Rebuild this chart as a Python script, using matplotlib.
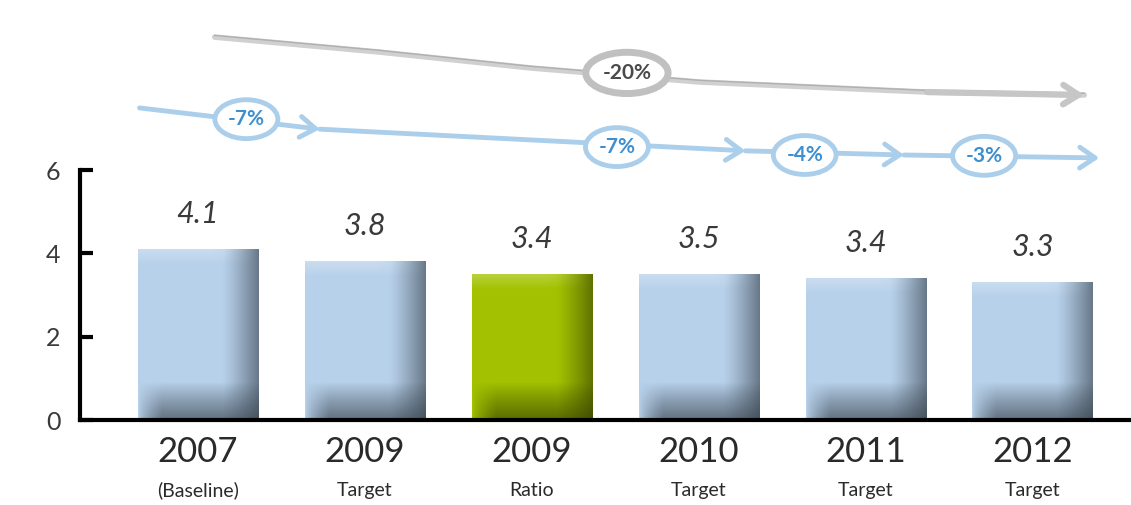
import numpy as np
import matplotlib
matplotlib.use('Agg')
import matplotlib.pyplot as plt

plt.rcParams['font.family'] = ['Lato', 'DejaVu Sans']

# bar data
years = ['2007', '2009', '2009', '2010', '2011', '2012']
sublabels = ['(Baseline)', 'Target', 'Ratio', 'Target', 'Target', 'Target']
heights = [4.1, 3.8, 3.5, 3.5, 3.4, 3.3]
value_labels = ['4.1', '3.8', '3.4', '3.5', '3.4', '3.3']
highlight = [False, False, True, False, False, False]

# reduction arrows (x in bar positions, y in data units above the bars)
gray_path_x = [0.10, 1.09, 1.99, 3.01, 4.37, 5.31]
gray_path_y = [9.19, 8.83, 8.45, 8.11, 7.87, 7.80]
gray_label = '-20%'
gray_label_xy = (2.57, 8.33)

blue_path_x = [-0.35, 0.73, 3.28, 4.23, 5.40]
blue_path_y = [7.49, 6.98, 6.46, 6.36, 6.29]
blue_labels = ['-7%', '-7%', '-4%', '-3%']
blue_label_x = [0.29, 2.51, 3.635, 4.71]
blue_label_y = [7.22, 6.55, 6.36, 6.34]

fig = plt.figure(figsize=(11.31, 5.05), dpi=100)
ax = fig.add_axes([0.0707, 0.1683, 0.9293, 0.8317])

blue_base = np.array([0.72, 0.82, 0.92])
blue_dark = np.array([0.20, 0.24, 0.28])
green_base = np.array([0.64, 0.76, 0.0])
green_dark = np.array([0.20, 0.24, 0.0])

bar_w = 0.72
for i, h in enumerate(heights):
    base = green_base if highlight[i] else blue_base
    darkc = green_dark if highlight[i] else blue_dark
    nx, ny = 120, 200
    fx = np.linspace(0, 1, nx)
    hy = np.linspace(0, h, ny)
    right = np.clip((fx - 0.70) / 0.30, 0, 1) ** 1.2 * 0.6
    leftfade = np.clip(fx / 0.2, 0, 1) ** 0.7
    bottom = np.clip((0.9 - hy) / 0.9, 0, 1) ** 0.9 * 0.65
    dark = 1 - (1 - right[None, :]) * (1 - bottom[:, None] * leftfade[None, :])
    light = np.clip((hy - (h - 0.35)) / 0.35, 0, 1) * 0.25
    light = light[:, None] * (1 - np.clip((fx - 0.6) / 0.4, 0, 1))[None, :]
    rgb = base[None, None, :] * (1 - dark[..., None]) + darkc[None, None, :] * dark[..., None]
    rgb = rgb + (1 - rgb) * light[..., None]
    ax.imshow(np.clip(rgb, 0, 1), extent=(i - bar_w / 2, i + bar_w / 2, 0, h),
              origin='lower', aspect='auto', interpolation='bilinear', zorder=2)
    ax.text(i, h + 0.85, value_labels[i], ha='center', va='center',
            fontsize=22, style='italic', color='#3a3a3a', zorder=3)
    ax.text(i, -0.076, years[i], transform=ax.get_xaxis_transform(),
            ha='center', va='center', fontsize=25, color='#2a2a2a')
    ax.text(i, -0.167, sublabels[i], transform=ax.get_xaxis_transform(),
            ha='center', va='center', fontsize=14, color='#2a2a2a')

# gray -20% arrow (doubled stroke for a hand-drawn look)
ax.plot(gray_path_x, gray_path_y, color='#d0d0d0', lw=4, solid_capstyle='round', zorder=4)
ax.plot(gray_path_x, [y + 0.04 for y in gray_path_y], color='#b0b0b0', lw=1.0, zorder=4)
ax.annotate('', xy=(gray_path_x[-1], gray_path_y[-1]), xytext=(gray_path_x[-2], gray_path_y[-2]),
            arrowprops=dict(arrowstyle='->,head_length=1.1,head_width=0.7', color='#c6c6c6', lw=4.5,
                            shrinkA=0, shrinkB=0),
            zorder=4)
ax.text(gray_label_xy[0], gray_label_xy[1], gray_label, ha='center', va='center',
        fontsize=15, fontweight='bold', color='#4a4a4a', zorder=6,
        bbox=dict(boxstyle='ellipse,pad=0.22', fc='white', ec='#c0c0c0', lw=5))

# blue yearly arrows
for k in range(len(blue_path_x) - 1):
    ax.annotate('', xy=(blue_path_x[k + 1], blue_path_y[k + 1]),
                xytext=(blue_path_x[k], blue_path_y[k]),
                arrowprops=dict(arrowstyle='->,head_length=1.1,head_width=0.75',
                                color='#abcfea', lw=3.5, shrinkA=0, shrinkB=0),
                zorder=4)
for lab, x, y in zip(blue_labels, blue_label_x, blue_label_y):
    ax.text(x, y, lab, ha='center', va='center', fontsize=15, fontweight='bold',
            color='#3d8fcf', zorder=6,
            bbox=dict(boxstyle='ellipse,pad=0.18', fc='white', ec='#abcfea', lw=3.5))

ax.set_xlim(-0.707, 5.59)
ax.set_ylim(0, 10.08)
ax.set_yticks([0, 2, 4, 6])
ax.set_xticks([])
ax.spines['top'].set_visible(False)
ax.spines['right'].set_visible(False)
ax.spines['left'].set_bounds(0, 6)
ax.spines['left'].set_linewidth(3)
ax.spines['bottom'].set_linewidth(3)
ax.tick_params(axis='y', direction='in', length=9, width=3, pad=14,
               labelsize=18, labelcolor='#3a3a3a')
ax.patch.set_alpha(0)

fig.savefig('out.png', dpi=100)
